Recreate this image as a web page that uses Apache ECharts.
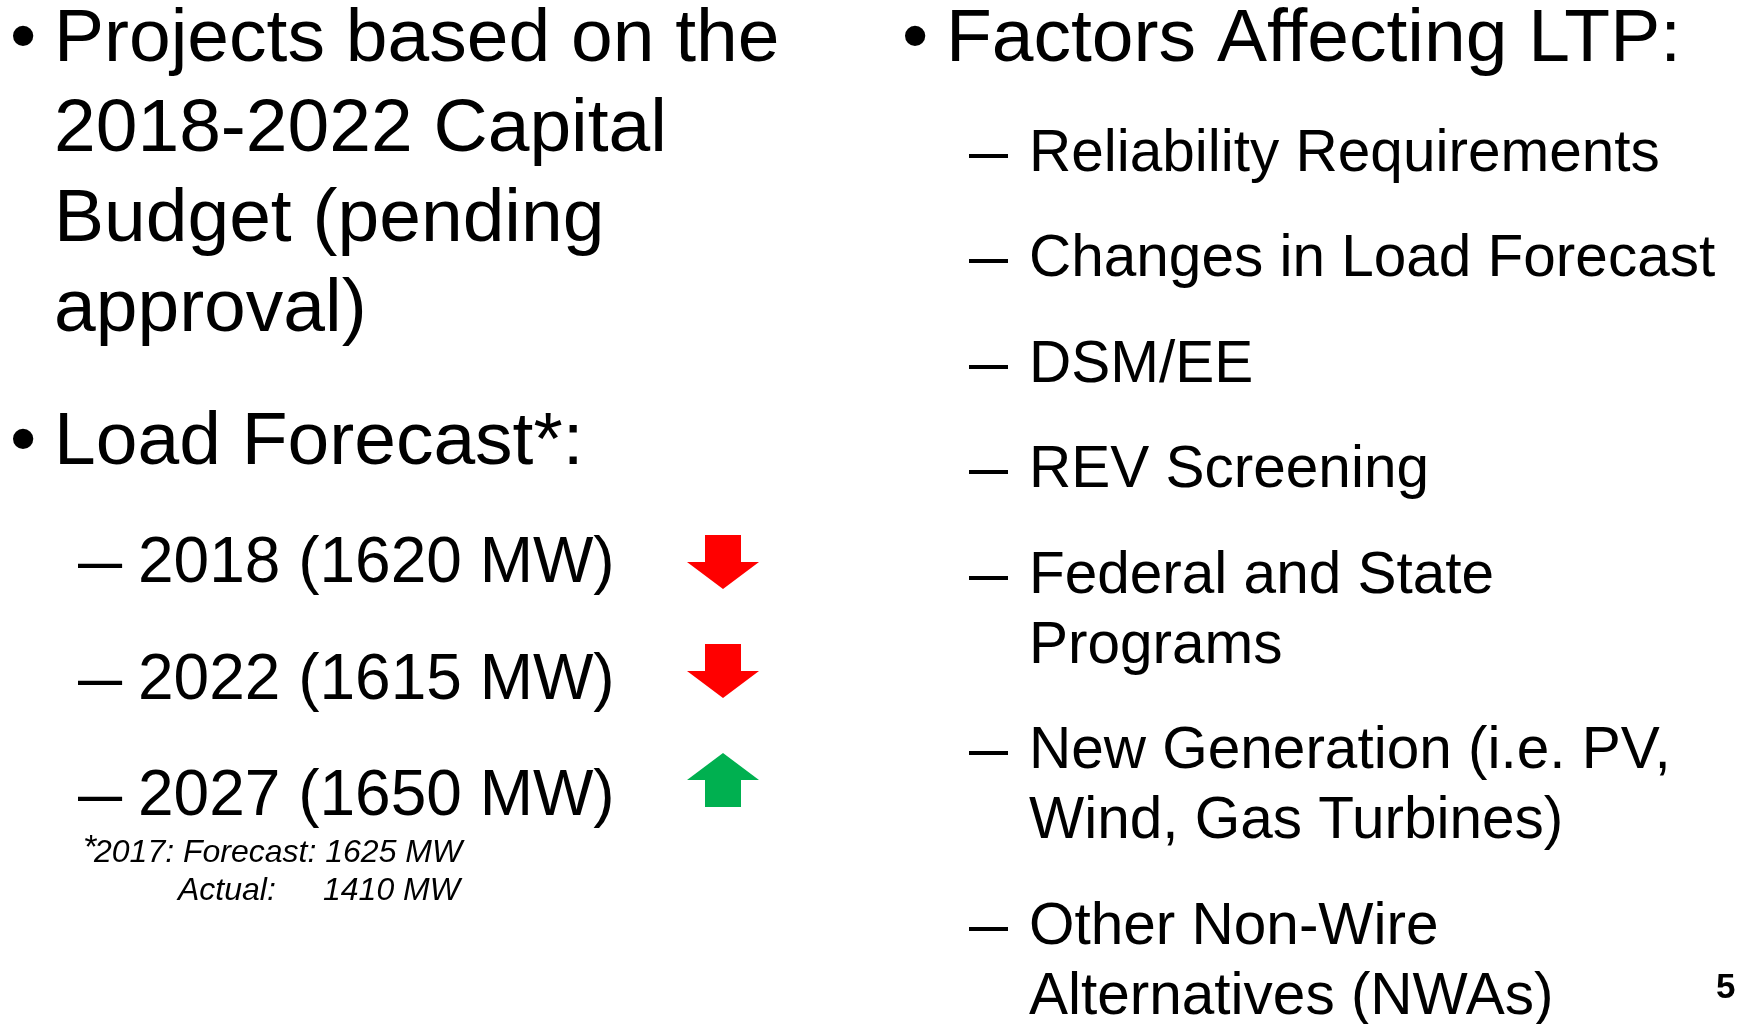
<!DOCTYPE html>
<html>
<head>
<meta charset="utf-8">
<script src="https://cdn.jsdelivr.net/npm/echarts@6/dist/echarts.min.js"></script>
<style>
  html, body { margin: 0; padding: 0; background: #fff; }
  #chart { width: 1737px; height: 1024px; }
</style>
</head>
<body>
<div id="chart"></div>
<script>
// slide content
const projectLines = ['Projects based on the', '2018-2022 Capital', 'Budget (pending', 'approval)'];
const forecastTitle = 'Load Forecast*:';
const forecastYears = ['2018', '2022', '2027'];
const forecastMW = [1620, 1615, 1650];
const forecastTrend = ['down', 'down', 'up'];
const noteYear = '2017';
const noteForecastMW = 1625;
const noteActualMW = 1410;
const factorsTitle = 'Factors Affecting LTP:';
const factors = [
  ['Reliability Requirements'],
  ['Changes in Load Forecast'],
  ['DSM/EE'],
  ['REV Screening'],
  ['Federal and State', 'Programs'],
  ['New Generation (i.e. PV,', 'Wind, Gas Turbines)'],
  ['Other Non-Wire', 'Alternatives (NWAs)'],
];
const pageNumber = '5';

const FONT = '"Liberation Sans", Arial, sans-serif';
const MID = 0.347; // canvas "middle" sits this many em above the baseline
const NUDGE = 4;   // small global downward correction

const chart = echarts.init(document.getElementById('chart'));
const els = [];

// place a text by its baseline
function text(str, x, baseline, size, extra) {
  extra = extra || {};
  els.push({
    type: 'text',
    x: x,
    y: baseline - MID * size + NUDGE,
    scaleX: extra.scaleX || 1,
    style: {
      text: str,
      x: 0,
      y: 0,
      fill: '#000',
      fontFamily: FONT,
      fontSize: size,
      fontStyle: extra.italic ? 'italic' : 'normal',
      fontWeight: extra.bold ? 'bold' : 'normal',
      align: 'left',
      verticalAlign: 'middle',
    },
  });
}

function arrow(cx, cy, dir, color) {
  const w = 36, sh = 18, h = 27;
  const s = dir === 'down' ? 1 : -1;
  els.push({
    type: 'polygon',
    shape: {
      points: [
        [cx - sh, cy - s * h], [cx + sh, cy - s * h], [cx + sh, cy],
        [cx + w, cy], [cx, cy + s * h], [cx - w, cy], [cx - sh, cy],
      ],
    },
    style: { fill: color },
  });
}

// left column
const big = 75;
text('\u2022', 10, 62, big);
projectLines.forEach((line, i) => text(line, 54, 62 + i * 90, big));
text('\u2022', 10, 465, big);
text(forecastTitle, 54, 465, big);

const sub = 64;
forecastYears.forEach((yr, i) => {
  const base = 583 + i * 116.5;
  text('\u2013', 78, base, sub, { scaleX: 1.24 });
  text(yr + ' (' + forecastMW[i] + ' MW)', 138, base, sub);
  const up = forecastTrend[i] === 'up';
  arrow(723, 562 + i * 109, forecastTrend[i], up ? '#00B050' : '#FF0000');
});

// footnote
const note = 32;
text('*', 83, 856, 34, { italic: true });
text(noteYear + ': Forecast: ' + noteForecastMW + ' MW', 94, 860, note, { italic: true });
text('Actual:', 178, 898, note, { italic: true });
text(noteActualMW + ' MW', 323, 898, note, { italic: true });

// right column
text('\u2022', 902, 62, big);
text(factorsTitle, 946, 62, big);
const fs = 58.5;
let base = 171;
factors.forEach((lines) => {
  text('\u2013', 969, base, fs, { scaleX: 1.2 });
  lines.forEach((line, j) => {
    text(line, 1029, base, fs);
    if (j < lines.length - 1) base += 70;
  });
  base += 105.5;
});

text(pageNumber, 1716, 996, 35, { bold: true });

chart.setOption({
  backgroundColor: '#fff',
  animation: false,
  graphic: { elements: els },
});
</script>
</body>
</html>
